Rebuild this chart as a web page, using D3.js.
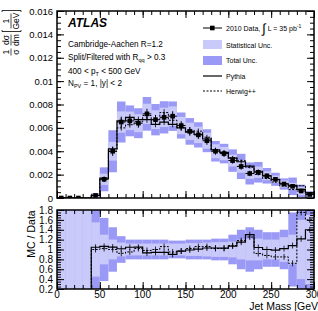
<!DOCTYPE html>
<html><head><meta charset="utf-8">
<script src="https://cdn.jsdelivr.net/npm/d3@7/dist/d3.min.js"></script>
<style>
html,body{margin:0;padding:0;background:#fff;}
svg{display:block;font-family:"Liberation Sans",Arial,Helvetica,sans-serif;}
</style></head>
<body>
<svg id="chart" width="318" height="311"></svg>
<script>
// ---------------- data ----------------
const binLow  = [0,10,20,30,40,50,60,70,80,90,100,110,120,130,140,150,160,170,180,190,200,210,220,230,240,250,260,270,280,290];
const binHigh = [10,20,30,40,50,60,70,80,90,100,110,120,130,140,150,160,170,180,190,200,210,220,230,240,250,260,270,280,290,300];
const dataVals = [0,0,0,null,0.00022,0.0016,0.0040,0.0065,0.0066,0.0064,0.0072,0.0067,0.0069,0.0070,0.0062,0.0057,0.0054,0.0049,0.0040,0.0038,0.0032,0.0027,0.0021,0.0022,0.0019,0.0016,0.0012,0.0010,0.0006,0.0003];
const pythiaVals = [0,0,0,0,0.00023,0.0017,0.0042,0.0066,0.0069,0.0067,0.0067,0.0063,0.0065,0.0063,0.0060,0.00564,0.00545,0.00505,0.00412,0.00391,0.00342,0.0031,0.00273,0.00229,0.0019,0.00158,0.00122,0.00108,0.00073,0.00042];
const herwigVals = [0,0,0,0,0.00022,0.00163,0.0040,0.0060,0.00627,0.00653,0.00706,0.0067,0.00731,0.00665,0.00601,0.00581,0.00572,0.0052,0.00408,0.00388,0.00346,0.00319,0.00263,0.00202,0.00167,0.00136,0.00102,0.00072,0.00105,0.00048];
const statRel = [99,99,99,99,0.55,0.3,0.2,0.14,0.12,0.12,0.12,0.12,0.12,0.12,0.12,0.13,0.13,0.14,0.15,0.15,0.16,0.2,0.22,0.22,0.2,0.2,0.25,0.3,0.6,0.7];
const totRel  = [99,99,99,99,0.85,0.64,0.45,0.27,0.2,0.2,0.2,0.2,0.2,0.18,0.18,0.2,0.2,0.2,0.22,0.22,0.3,0.4,0.45,0.4,0.35,0.35,0.4,0.75,0.9,0.9];
const xTicks = [0,50,100,150,200,250,300];
const xTickLabels = ["0","50","100","150","200","250","300"];
const yTicks = [0,0.002,0.004,0.006,0.008,0.01,0.012,0.014,0.016];
const yTickLabels = ["0","0.002","0.004","0.006","0.008","0.01","0.012","0.014","0.016"];
const rTicks = [0.2,0.4,0.6,0.8,1.0,1.2,1.4,1.6,1.8];
const rTickLabels = ["0.2","0.4","0.6","0.8","1","1.2","1.4","1.6","1.8"];

// ---------------- layout ----------------
const L = 57, R = 314;
const T1 = 11, B1 = 198;
const T2 = 210, B2 = 289;
const statColor = "#c9c9fa", totColor = "#9a9af6";
const svg = d3.select("#chart");

const x = d3.scaleLinear().domain([0,300]).range([L,R]);
const y = d3.scaleLinear().domain([0,0.016]).range([B1,T1]);
const yr = d3.scaleLinear().domain([0.2,1.8]).range([B2,T2]);

const defs = svg.append("defs");
defs.append("clipPath").attr("id","c1").append("rect").attr("x",L).attr("y",T1).attr("width",R-L).attr("height",B1-T1);
defs.append("clipPath").attr("id","c2").append("rect").attr("x",L).attr("y",T2).attr("width",R-L).attr("height",B2-T2);

const idx = d3.range(binLow.length);

// ---------------- upper panel ----------------
const g1 = svg.append("g").attr("clip-path","url(#c1)");
idx.forEach(i=>{
  const d = dataVals[i]; if (d===null || d===0) return;
  g1.append("rect").attr("x",x(binLow[i])).attr("width",x(binHigh[i])-x(binLow[i]))
    .attr("y",y(d*(1+totRel[i]))).attr("height",y(Math.max(0,d*(1-totRel[i])))-y(d*(1+totRel[i]))).attr("fill",totColor);
});
idx.forEach(i=>{
  const d = dataVals[i]; if (d===null || d===0) return;
  g1.append("rect").attr("x",x(binLow[i])).attr("width",x(binHigh[i])-x(binLow[i]))
    .attr("y",y(d*(1+statRel[i]))).attr("height",y(Math.max(0,d*(1-statRel[i])))-y(d*(1+statRel[i]))).attr("fill",statColor);
});
function stepPath(vals, ys, startIdx, startY){
  let p = d3.path();
  p.moveTo(x(binLow[startIdx]), startY);
  for (let i=startIdx;i<vals.length;i++){
    if (vals[i]===null) continue;
    p.lineTo(x(binLow[i]), ys(vals[i]));
    p.lineTo(x(binHigh[i]), ys(vals[i]));
  }
  return p.toString();
}
g1.append("path").attr("d",stepPath(pythiaVals,y,0,y(0))).attr("fill","none").attr("stroke","#000").attr("stroke-width",1.2);
g1.append("path").attr("d",stepPath(herwigVals,y,0,y(0))).attr("fill","none").attr("stroke","#000").attr("stroke-width",1).attr("stroke-dasharray","2,1.5");
// small MC error bars
[pythiaVals, herwigVals].forEach(vals=>{
  idx.forEach(i=>{
    if (!vals[i]) return;
    const cx = x((binLow[i]+binHigh[i])/2);
    g1.append("line").attr("x1",cx).attr("x2",cx).attr("y1",y(vals[i]*1.04)).attr("y2",y(vals[i]*0.96)).attr("stroke","#000").attr("stroke-width",0.8);
  });
});
// data points
idx.forEach(i=>{
  const d = dataVals[i]; if (d===null) return;
  const cx = x((binLow[i]+binHigh[i])/2);
  g1.append("line").attr("x1",x(binLow[i])).attr("x2",x(binHigh[i])).attr("y1",y(d)).attr("y2",y(d)).attr("stroke","#000").attr("stroke-width",1);
  if (d>0) g1.append("line").attr("x1",cx).attr("x2",cx).attr("y1",y(d*(1+statRel[i]*0.5))).attr("y2",y(d*(1-statRel[i]*0.5))).attr("stroke","#000").attr("stroke-width",1);
  g1.append("rect").attr("x",cx-2.3).attr("y",y(d)-2.3).attr("width",4.6).attr("height",4.6).attr("fill","#000");
});

// ---------------- ratio panel ----------------
const g2 = svg.append("g").attr("clip-path","url(#c2)");
idx.forEach(i=>{
  g2.append("rect").attr("x",x(binLow[i])).attr("width",x(binHigh[i])-x(binLow[i]))
    .attr("y",yr(1+totRel[i])).attr("height",yr(1-totRel[i])-yr(1+totRel[i])).attr("fill",totColor);
});
idx.forEach(i=>{
  g2.append("rect").attr("x",x(binLow[i])).attr("width",x(binHigh[i])-x(binLow[i]))
    .attr("y",yr(1+statRel[i])).attr("height",yr(1-statRel[i])-yr(1+statRel[i])).attr("fill",statColor);
});
const firstR = dataVals.findIndex(v=>v!==null && v>0);
const pyR = pythiaVals.map((v,i)=> (dataVals[i]? v/dataVals[i] : null));
const hwR = herwigVals.map((v,i)=> (dataVals[i]? v/dataVals[i] : null));
g2.append("path").attr("d",stepPath(pyR,yr,firstR,B2+5)).attr("fill","none").attr("stroke","#000").attr("stroke-width",1.2);
g2.append("path").attr("d",stepPath(hwR,yr,firstR,B2+5)).attr("fill","none").attr("stroke","#000").attr("stroke-width",1).attr("stroke-dasharray","2,1.5");
[pyR, hwR].forEach(vals=>{
  idx.forEach(i=>{
    if (vals[i]===null) return;
    const cx = x((binLow[i]+binHigh[i])/2);
    g2.append("line").attr("x1",cx).attr("x2",cx).attr("y1",yr(vals[i]+0.06)).attr("y2",yr(vals[i]-0.06)).attr("stroke","#000").attr("stroke-width",0.8);
  });
});

// ---------------- axes ----------------
function frame(top,bottom,ys,majors,minors,labels,labelSize){
  const g = svg.append("g");
  const yl = g.append("g").attr("transform",`translate(${L},0)`)
    .call(d3.axisLeft(ys).tickValues(majors).tickSize(-7).tickPadding(4).tickFormat((d,i)=>labels[i]));
  yl.select(".domain").remove();
  yl.selectAll("text").attr("font-size",labelSize).attr("font-family","Liberation Sans, Arial, sans-serif").attr("fill","#000");
  g.append("g").attr("transform",`translate(${L},0)`).call(d3.axisLeft(ys).tickValues(minors).tickSize(-4).tickFormat(""))
    .select(".domain").remove();
  const yrg = g.append("g").attr("transform",`translate(${R},0)`).call(d3.axisRight(ys).tickValues(majors).tickSize(-7).tickFormat(""));
  yrg.select(".domain").remove();
  g.append("g").attr("transform",`translate(${R},0)`).call(d3.axisRight(ys).tickValues(minors).tickSize(-4).tickFormat(""))
    .select(".domain").remove();
  const xMinor = d3.range(0,301,10);
  [[bottom,d3.axisBottom],[top,d3.axisTop]].forEach(([pos,fn])=>{
    g.append("g").attr("transform",`translate(0,${pos})`).call(fn(x).tickValues(xTicks).tickSize(-7).tickFormat("")).select(".domain").remove();
    g.append("g").attr("transform",`translate(0,${pos})`).call(fn(x).tickValues(xMinor).tickSize(-4).tickFormat("")).select(".domain").remove();
  });
  g.selectAll(".tick line").attr("stroke","#000").attr("stroke-width",1);
  g.append("rect").attr("x",L).attr("y",top).attr("width",R-L).attr("height",bottom-top)
    .attr("fill","none").attr("stroke","#000").attr("stroke-width",1.5);
  return g;
}
frame(T1,B1,y,yTicks,d3.range(0,0.01601,0.0005),yTickLabels,9.5);
frame(T2,B2,yr,rTicks,d3.range(0.2,1.8001,0.05),rTickLabels,10);

// x tick labels (ratio panel)
svg.append("g").selectAll("text").data(xTicks).join("text")
  .attr("x",d=>x(d)).attr("y",B2+9).attr("text-anchor","middle").attr("font-size",10).text((d,i)=>xTickLabels[i]);
svg.append("text").attr("x",321).attr("y",309.5).attr("text-anchor","end").attr("font-size",10.5).text("Jet Mass [GeV]");

// ratio y title
svg.append("text").attr("transform","translate(35,234) rotate(-90)").attr("text-anchor","middle").attr("font-size",10.5).text("MC / Data");

// upper y title: 1/σ dσ/dm [1/GeV]
const yt = svg.append("g").attr("transform","translate(0,57) rotate(-90)").attr("font-size",8.5);
function frac(g, cx, num, den){
  g.append("text").attr("x",cx).attr("y",9).attr("text-anchor","middle").text(num);
  g.append("text").attr("x",cx).attr("y",19).attr("text-anchor","middle").text(den);
}
frac(yt,5,"1","σ");
yt.append("line").attr("x1",1.5).attr("x2",8.5).attr("y1",11).attr("y2",11).attr("stroke","#000").attr("stroke-width",0.7);
frac(yt,17,"dσ","dm");
yt.append("line").attr("x1",11.5).attr("x2",22.5).attr("y1",11).attr("y2",11).attr("stroke","#000").attr("stroke-width",0.7);
frac(yt,36,"1","GeV");
yt.append("line").attr("x1",28.5).attr("x2",43.5).attr("y1",11).attr("y2",11).attr("stroke","#000").attr("stroke-width",0.7);
yt.append("path").attr("d","M27,2 L25.5,2 L25.5,21 L27,21").attr("fill","none").attr("stroke","#000").attr("stroke-width",0.8);
yt.append("path").attr("d","M45,2 L46.5,2 L46.5,21 L45,21").attr("fill","none").attr("stroke","#000").attr("stroke-width",0.8);

// annotations
svg.append("text").attr("x",68).attr("y",27).attr("font-size",12).attr("font-weight","bold").attr("font-style","italic").text("ATLAS");
const ann = svg.append("g").attr("font-size",8.2);
ann.append("text").attr("x",68).attr("y",46.5).text("Cambridge-Aachen R=1.2");
const t2 = ann.append("text").attr("x",68).attr("y",60);
t2.append("tspan").text("Split/Filtered with R");
t2.append("tspan").attr("font-size",5.5).attr("dy",2).text("qq");
t2.append("tspan").attr("dy",-2).text(" > 0.3");
const t3 = ann.append("text").attr("x",68).attr("y",73.5);
t3.append("tspan").text("400 < p");
t3.append("tspan").attr("font-size",5.5).attr("dy",2).text("T");
t3.append("tspan").attr("dy",-2).text(" < 500 GeV");
const t4 = ann.append("text").attr("x",68).attr("y",86);
t4.append("tspan").text("N");
t4.append("tspan").attr("font-size",5.5).attr("dy",2).text("PV");
t4.append("tspan").attr("dy",-2).text(" = 1, |y| < 2");

// legend
const lg = svg.append("g").attr("font-size",7);
lg.append("line").attr("x1",203).attr("x2",222).attr("y1",28).attr("y2",28).attr("stroke","#000").attr("stroke-width",1);
lg.append("rect").attr("x",210).attr("y",25.7).attr("width",4.6).attr("height",4.6).attr("fill","#000");
const lt = lg.append("text").attr("x",226).attr("y",30.5);
lt.append("tspan").text("2010 Data, ");
lt.append("tspan").attr("font-size",13).attr("dy",2).text("∫");
lt.append("tspan").attr("dy",-2).text(" L = 35 pb");
lt.append("tspan").attr("font-size",5).attr("dy",-3).text("-1");
lg.append("rect").attr("x",203).attr("y",40).attr("width",19).attr("height",9).attr("fill",statColor);
lg.append("text").attr("x",226).attr("y",47.5).text("Statistical Unc.");
lg.append("rect").attr("x",203).attr("y",56).attr("width",19).attr("height",9).attr("fill",totColor);
lg.append("text").attr("x",226).attr("y",63).text("Total Unc.");
lg.append("line").attr("x1",203).attr("x2",222).attr("y1",76).attr("y2",76).attr("stroke","#000").attr("stroke-width",1.2);
lg.append("text").attr("x",226).attr("y",78.5).text("Pythia");
lg.append("line").attr("x1",203).attr("x2",222).attr("y1",91).attr("y2",91).attr("stroke","#000").attr("stroke-width",1).attr("stroke-dasharray","2,1.5");
lg.append("text").attr("x",226).attr("y",93.5).text("Herwig++");
</script>
</body></html>
